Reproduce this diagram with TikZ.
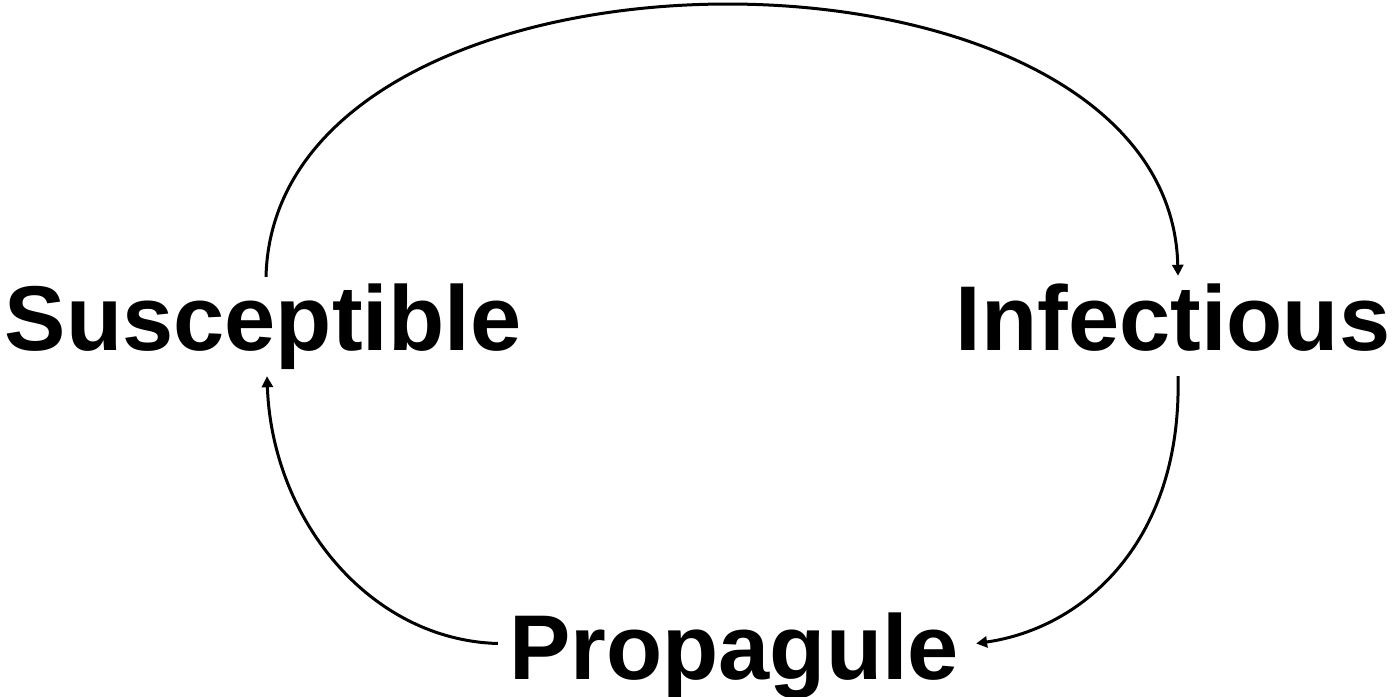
\documentclass[tikz,border=0pt]{standalone}
\usepackage{fontspec}
\setmainfont{Liberation Sans}
\usetikzlibrary{calc,arrows.meta}
\tikzset{
  lbl/.style={font=\fontsize{92}{110}\selectfont\bfseries, text height=66pt, text depth=19pt, inner sep=7pt, anchor=base},
  conn/.style={line width=3pt, -{Triangle[length=11pt,width=11pt]}}
}
\begin{document}
\begin{tikzpicture}[x=1pt,y=-1pt]
\useasboundingbox (0,0) rectangle (1394,696);
\node[lbl] (S) at (263,350) {Susceptible};
\node[lbl] (I) at (1173,350) {Infectious};
\node[lbl] (P) at (734,679) {Propagule};
\draw[conn] ($(S.north)+(3,0)$) .. controls (275,-85) and (1170,-85) .. ($(I.north)+(5,-1)$);
\draw[conn] ($(I.south)+(5,0)$) .. controls (1182,540) and (1085,628) .. ($(P.east)+(10,-12)$);
\draw[conn] ($(P.west)+(-4,-12)$) .. controls (370,640) and (272,520) .. ($(S.south)+(4,0)$);
\end{tikzpicture}
\end{document}
